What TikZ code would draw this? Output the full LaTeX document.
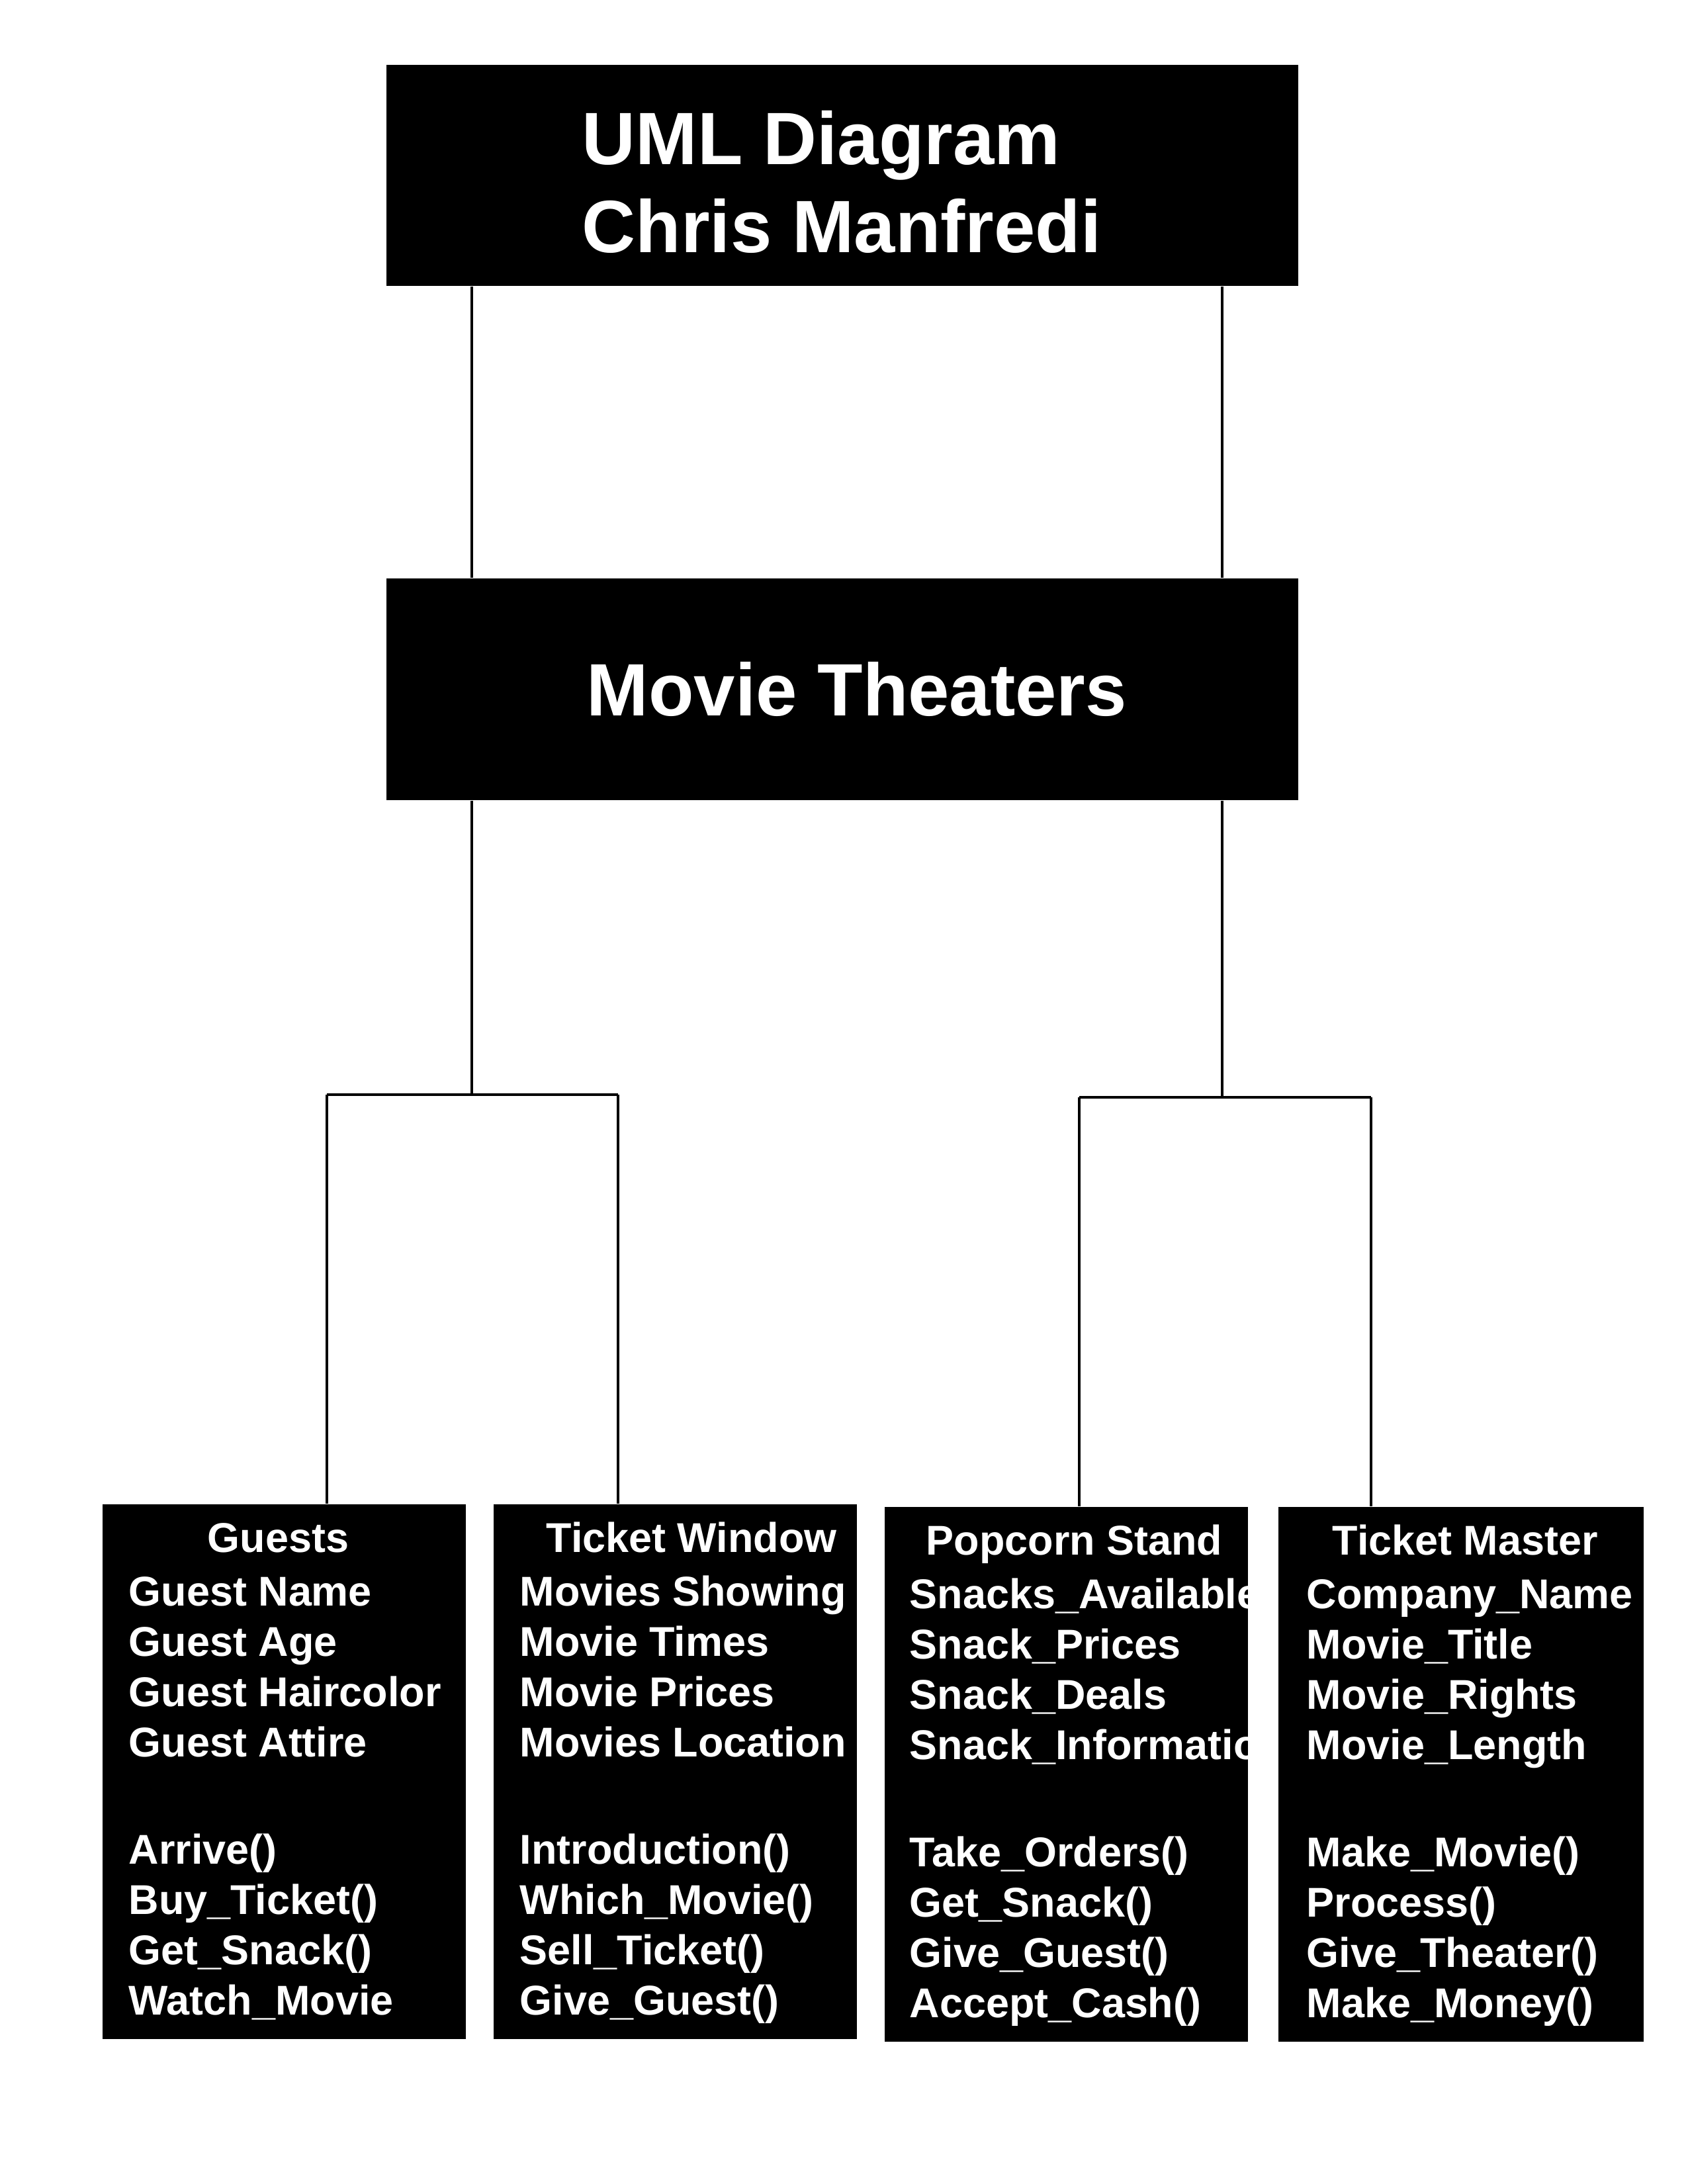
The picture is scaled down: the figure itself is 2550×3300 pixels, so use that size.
\documentclass[tikz,border=0pt]{standalone}
\usepackage{fontspec}
\setmainfont{Liberation Sans}
\begin{document}
\begin{tikzpicture}[x=0.24bp,y=-0.24bp,
  blackbox/.style={fill=black,draw=none,inner sep=0pt,anchor=north west},
  bigtxt/.style={text=white,inner sep=0pt,anchor=base west,font=\fontsize{26.9bp}{32bp}\selectfont\bfseries},
  smalltxt/.style={text=white,inner sep=0pt,anchor=base west,font=\fontsize{15.1bp}{18bp}\selectfont\bfseries},
  conn/.style={draw=black,line width=0.75bp}]
\useasboundingbox (0,0) rectangle (2550,3300);
\fill[white] (0,0) rectangle (2550,3300);

% boxes
\node[blackbox,minimum width=1378*0.24bp,minimum height=334*0.24bp] (title) at (583,97) {};
\node[blackbox,minimum width=1378*0.24bp,minimum height=335*0.24bp] (mt) at (583,873) {};
\node[blackbox,minimum width=549*0.24bp,minimum height=808*0.24bp] (guests) at (154,2272) {};
\node[blackbox,minimum width=549*0.24bp,minimum height=808*0.24bp] (tw) at (745,2272) {};
\node[blackbox,minimum width=549*0.24bp,minimum height=808*0.24bp] (pc) at (1336,2276) {};
\node[blackbox,minimum width=552*0.24bp,minimum height=808*0.24bp] (tm) at (1931,2276) {};

% header texts
\node[bigtxt] (t1) at (879,248) {UML Diagram};
\node[bigtxt] (t2) at (879,381) {Chris Manfredi};
\node[bigtxt] (t3) at (886,1081) {Movie Theaters};

% Guests
\node[smalltxt] (gT) at (313,2345) {Guests};
\foreach \t [count=\i] in {Guest Name,Guest Age,Guest Haircolor,Guest Attire}
  \node[smalltxt] (ga\i) at (194,{2426+(\i-1)*76}) {\t};
\foreach \t [count=\i] in {Arrive(),Buy\_Ticket(),Get\_Snack(),Watch\_Movie}
  \node[smalltxt] (gm\i) at (194,{2816+(\i-1)*76}) {\t};

% Ticket Window
\node[smalltxt] (twT) at (825,2345) {Ticket Window};
\foreach \t [count=\i] in {Movies Showing,Movie Times,Movie Prices,Movies Location}
  \node[smalltxt] (twa\i) at (785,{2426+(\i-1)*76}) {\t};
\foreach \t [count=\i] in {Introduction(),Which\_Movie(),Sell\_Ticket(),Give\_Guest()}
  \node[smalltxt] (twm\i) at (785,{2816+(\i-1)*76}) {\t};

% Popcorn Stand (clipped)
\begin{scope}
\clip (1336,2276) rectangle (1885,3084);
\node[smalltxt] (pcT) at (1399,2349) {Popcorn Stand};
\foreach \t [count=\i] in {Snacks\_Available,Snack\_Prices,Snack\_Deals,Snack\_Information}
  \node[smalltxt] (pca\i) at (1374,{2430+(\i-1)*76}) {\t};
\foreach \t [count=\i] in {Take\_Orders(),Get\_Snack(),Give\_Guest(),Accept\_Cash()}
  \node[smalltxt] (pcm\i) at (1374,{2820+(\i-1)*76}) {\t};
\end{scope}

% Ticket Master
\node[smalltxt] (tmT) at (2013,2349) {Ticket Master};
\foreach \t [count=\i] in {Company\_Name,Movie\_Title,Movie\_Rights,Movie\_Length}
  \node[smalltxt] (tma\i) at (1974,{2430+(\i-1)*76}) {\t};
\foreach \t [count=\i] in {Make\_Movie(),Process(),Give\_Theater(),Make\_Money()}
  \node[smalltxt] (tmm\i) at (1974,{2820+(\i-1)*76}) {\t};

% connectors
\coordinate (jL) at (713,1654);
\coordinate (jR) at (1847,1658);
\coordinate (gA) at (494,1654);
\coordinate (twA) at (934,1654);
\coordinate (pcA) at (1631,1658);
\coordinate (tmA) at (2072,1658);

\draw[conn] (title.south -| jL) -- (mt.north -| jL);
\draw[conn] (title.south -| jR) -- (mt.north -| jR);
\draw[conn] (mt.south -| jL) -- (jL);
\draw[conn] (mt.south -| jR) -- (jR);
\draw[conn] (gA) -- (twA);
\draw[conn] (pcA) -- (tmA);
\draw[conn] (gA) -- (gA |- guests.north);
\draw[conn] (twA) -- (twA |- tw.north);
\draw[conn] (pcA) -- (pcA |- pc.north);
\draw[conn] (tmA) -- (tmA |- tm.north);
\end{tikzpicture}
\end{document}
